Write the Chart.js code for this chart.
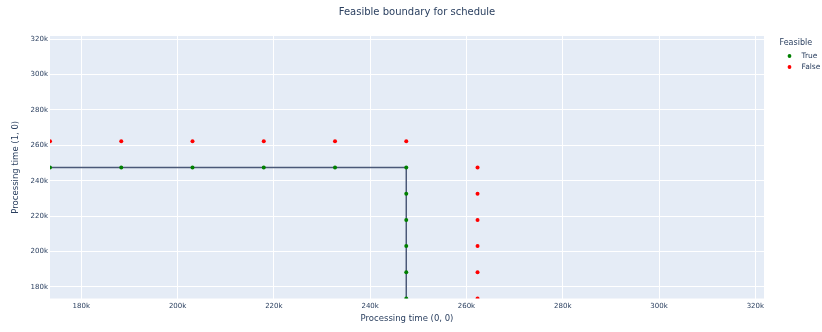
<!DOCTYPE html>
<html>
<head>
<meta charset="utf-8">
<script src="https://cdn.jsdelivr.net/npm/chart.js@4"></script>
<style>
  html, body { margin: 0; padding: 0; background: #ffffff; }
  #wrap { position: relative; width: 822px; height: 332px; }
</style>
</head>
<body>
<div id="wrap"><canvas id="chart" width="822" height="332"></canvas></div>
<script>
// Schedule grid: processing times tested for job (0, 0) and job (1, 0)
const feasibleX   = [173500, 188300, 203100, 217900, 232700, 247500, 247500, 247500, 247500, 247500, 247500];
const feasibleY   = [247500, 247500, 247500, 247500, 247500, 247500, 232700, 217900, 203100, 188300, 173500];
const infeasibleX = [173500, 188300, 203100, 217900, 232700, 247500, 262300, 262300, 262300, 262300, 262300, 262300];
const infeasibleY = [262300, 262300, 262300, 262300, 262300, 262300, 247500, 232700, 217900, 203100, 188300, 173500];
// Boundary between feasible and infeasible schedules
const boundaryX   = [173500, 247500, 247500];
const boundaryY   = [247500, 247500, 173500];
// Axis limits and tick labels (same for both axes)
const axisMin = 173500;
const axisMax = 321800;
const tickValues = [180000, 200000, 220000, 240000, 260000, 280000, 300000, 320000];
const tickLabels = ["180k", "200k", "220k", "240k", "260k", "280k", "300k", "320k"];

const legendTitle = "Feasible";
const seriesNames = ["True", "False"];
const titleText = "Feasible boundary for schedule";

const FONT = "'DejaVu Sans', Verdana, sans-serif";
const TEXT = "#2a3f5f";
const GREEN = "#008000";
const RED = "#ff0000";

const toPoints = (xs, ys) => xs.map((x, i) => ({ x: x, y: ys[i] }));

// Plot background, title and legend
const decorations = {
  id: "decorations",
  beforeDraw(chart) {
    const { ctx, chartArea: a } = chart;
    ctx.save();
    ctx.fillStyle = "#e5ecf6";
    ctx.fillRect(a.left, a.top, a.right - a.left, a.bottom - a.top);
    ctx.restore();
  },
  afterDraw(chart) {
    const ctx = chart.ctx;
    ctx.save();
    ctx.fillStyle = TEXT;
    ctx.textBaseline = "middle";
    ctx.textAlign = "center";
    ctx.font = "10px " + FONT;
    ctx.fillText(titleText, 417, 12);

    ctx.textAlign = "left";
    ctx.font = "8px " + FONT;
    ctx.fillText(legendTitle, 779.5, 43);
    const colors = [GREEN, RED];
    const rows = [56, 67];
    ctx.font = "7.5px " + FONT;
    seriesNames.forEach((name, i) => {
      ctx.fillStyle = colors[i];
      ctx.beginPath();
      ctx.arc(789.5, rows[i], 1.9, 0, Math.PI * 2);
      ctx.fill();
      ctx.fillStyle = TEXT;
      ctx.fillText(name, 801.5, rows[i]);
    });
    ctx.restore();
  }
};

function axis(titleText, isX) {
  return {
    type: "linear",
    min: axisMin,
    max: axisMax,
    border: { display: false },
    grid: { color: "#ffffff", lineWidth: 1, drawTicks: false },
    afterBuildTicks(scale) {
      scale.ticks = tickValues.map(v => ({ value: v }));
    },
    afterFit(scale) {
      if (isX) scale.height = 25.5; else scale.width = 39.5;
    },
    ticks: {
      color: TEXT,
      padding: isX ? 3 : 2,
      font: { family: FONT, size: 7 },
      callback: (v) => tickLabels[tickValues.indexOf(v)]
    },
    title: {
      display: true,
      text: titleText,
      color: TEXT,
      font: { family: FONT, size: 8.5 },
      padding: 0
    }
  };
}

new Chart(document.getElementById("chart"), {
  type: "scatter",
  data: {
    datasets: [
      {
        label: "boundary",
        type: "line",
        data: toPoints(boundaryX, boundaryY),
        borderColor: "#4a5877",
        borderWidth: 1.5,
        pointRadius: 0,
        fill: false,
        tension: 0,
        clip: 0,
        order: 3
      },
      {
        label: seriesNames[0],
        data: toPoints(feasibleX, feasibleY),
        backgroundColor: GREEN,
        borderWidth: 0,
        pointRadius: 2,
        clip: 0,
        order: 1
      },
      {
        label: seriesNames[1],
        data: toPoints(infeasibleX, infeasibleY),
        backgroundColor: RED,
        borderWidth: 0,
        pointRadius: 2,
        clip: 0,
        order: 2
      }
    ]
  },
  options: {
    responsive: false,
    animation: false,
    devicePixelRatio: 1,
    layout: { padding: { left: 10.5, right: 58, top: 36, bottom: 8 } },
    plugins: {
      legend: { display: false },
      title: { display: false },
      tooltip: { enabled: false }
    },
    scales: {
      x: axis("Processing time (0, 0)", true),
      y: axis("Processing time (1, 0)", false)
    }
  },
  plugins: [decorations]
});
</script>
</body>
</html>
